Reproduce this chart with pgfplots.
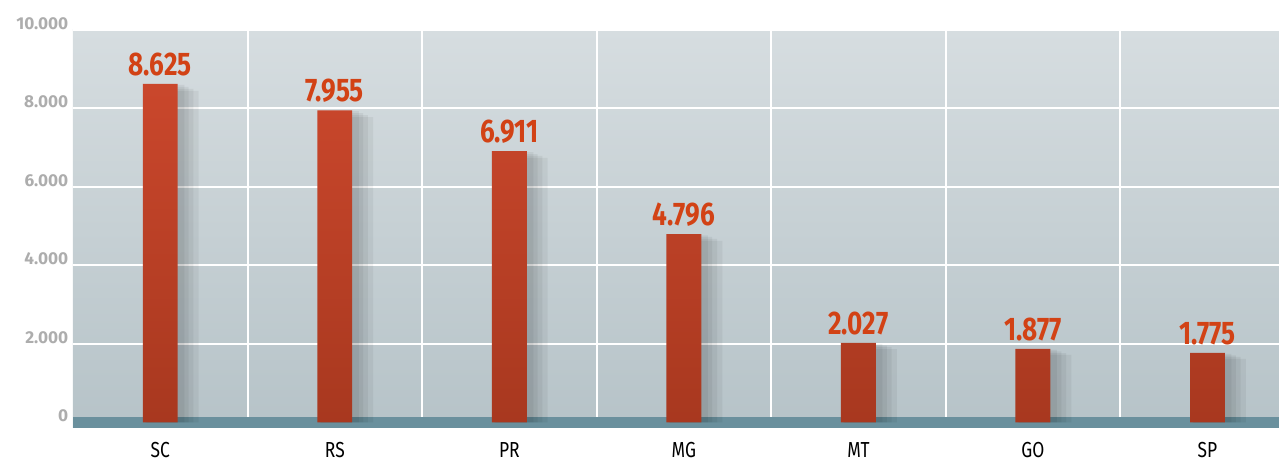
\documentclass[border=0pt]{standalone}
\usepackage{fontspec}
\setmainfont{Fira Sans}
\newfontfamily\condfont[FakeStretch=0.8]{Fira Sans}
\usepackage{pgfplots}
\pgfplotsset{compat=1.18}
\usetikzlibrary{calc}

\definecolor{bgtop}{HTML}{D6DDE0}
\definecolor{bgbot}{HTML}{B6C3C8}
\definecolor{stripcol}{HTML}{6A909D}
\definecolor{tickgray}{HTML}{ADADAD}
\definecolor{labred}{HTML}{D24215}
\definecolor{bartop}{HTML}{CA472C}
\definecolor{barbot}{HTML}{A8381F}

\pgfplotsset{shadow/.style={ybar, fill=black, fill opacity=0.05, draw=none, forget plot}}

\begin{document}
\begin{tikzpicture}
\begin{axis}[
    set layers,
    scale only axis,
    width=904.5pt, height=298.5pt,
    xmin=-0.5, xmax=6.41,
    ymin=-140, ymax=10000,
    axis line style={draw=none},
    axis background/.style={top color=bgtop, bottom color=bgbot},
    xtick={0,...,6},
    xticklabels={SC,RS,PR,MG,MT,GO,SP},
    minor xtick={0.5,1.5,...,5.5},
    xminorgrids,
    minor x grid style={white, line width=1.5pt},
    ytick={0,2000,...,10000},
    ymajorgrids,
    major y grid style={white, line width=1.5pt},
    tick style={draw=none},
    scaled y ticks=false,
    /pgf/number format/1000 sep={.},
    /pgf/number format/assume math mode=true,
    yticklabel style={font=\fontsize{12.9}{14}\selectfont\bfseries, text=tickgray, yshift=5pt},
    xticklabel style={font=\condfont\fontsize{16.3}{18}\selectfont, text=black, yshift=-7pt},
]
\coordinate (ll) at (rel axis cs:0,0);
\coordinate (ur) at (rel axis cs:1,1);

% bottom strip
\fill[stripcol] (axis cs:-0.5,-140) rectangle (axis cs:6.41,140);

% soft shadow behind the bars, a few translucent layers
\addplot[shadow, bar width=0.30, bar shift=0.07]
    coordinates {(0,8450) (1,7780) (2,6740) (3,4630) (4,1870) (5,1720) (6,1620)};
\addplot[shadow, bar width=0.27, bar shift=0.055]
    coordinates {(0,8500) (1,7830) (2,6790) (3,4680) (4,1920) (5,1770) (6,1670)};
\addplot[shadow, bar width=0.245, bar shift=0.04]
    coordinates {(0,8550) (1,7880) (2,6840) (3,4730) (4,1960) (5,1810) (6,1710)};
\addplot[shadow, bar width=0.225, bar shift=0.025]
    coordinates {(0,8600) (1,7930) (2,6890) (3,4770) (4,2000) (5,1850) (6,1750)};

% bars
\addplot[ybar, bar width=0.2, bar shift=0, draw=none, top color=bartop, bottom color=barbot,
    nodes near coords,
    every node near coord/.append style={font=\condfont\bfseries\fontsize{24.5}{28}\selectfont,
        text=labred, yshift=2.5pt}]
    coordinates {(0,8625) (1,7955) (2,6911) (3,4796) (4,2027) (5,1877) (6,1775)};
\end{axis}
\pgfresetboundingbox
\path ($(ll)+(-54.75pt,-25.5pt)$) rectangle ($(ur)+(0,22.5pt)$);
\end{tikzpicture}
\end{document}
